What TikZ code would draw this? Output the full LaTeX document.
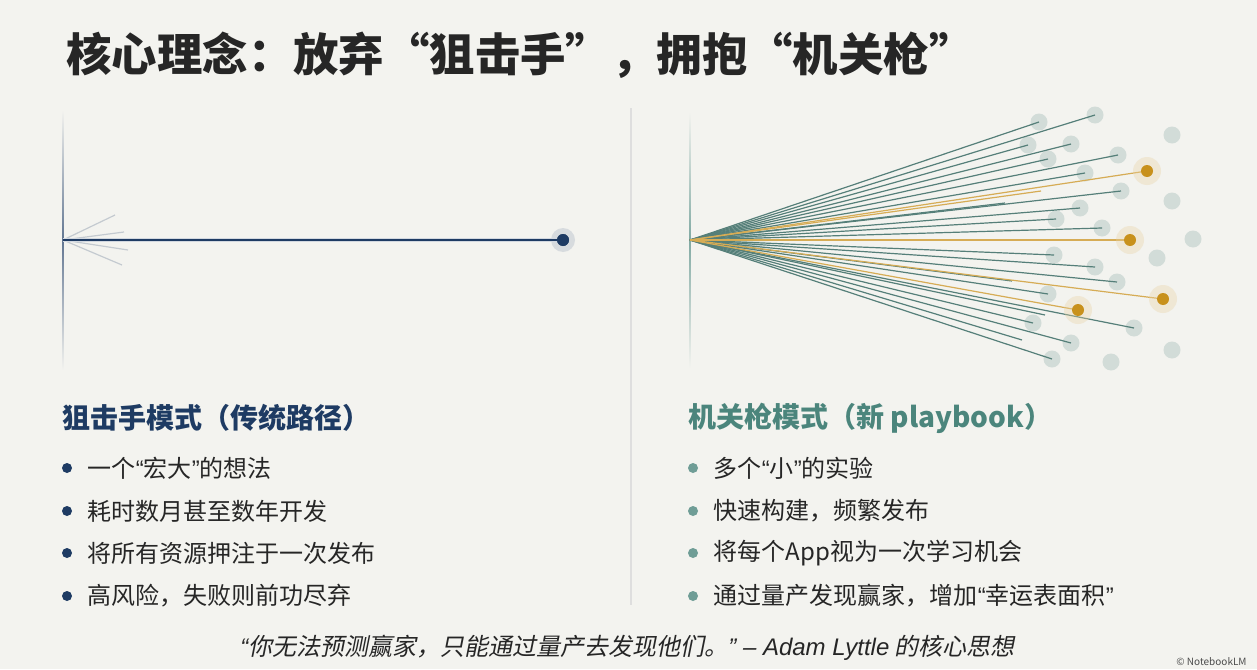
\documentclass[tikz,border=0pt]{standalone}
\usepackage{fontspec}
\setmainfont{Noto Sans CJK SC}
\newfontfamily\slantfont{Noto Sans CJK SC}[FakeSlant=0.2]
\newfontfamily\latinfont{Liberation Sans}
\usetikzlibrary{positioning,fadings}

\definecolor{bg}{HTML}{F3F3EF}
\definecolor{navy}{HTML}{1E3B63}
\definecolor{tealc}{HTML}{4B857C}
\definecolor{raycol}{HTML}{557F79}
\definecolor{goldc}{HTML}{C8911C}
\definecolor{dotgrey}{HTML}{CDD8D4}
\definecolor{ink}{HTML}{262626}

% proportional quotes as in the bullets
\newcommand{\pq}[1]{{\latinfont “}#1{\latinfont ”}}

\tikzset{
  heading/.style={anchor=west, inner sep=0pt, font=\fontsize{14pt}{16pt}\selectfont\bfseries},
  item/.style={inner sep=0pt, font=\fontsize{12pt}{14pt}\selectfont, text=ink},
  navybullet/.style={circle, fill=navy, minimum size=5pt, inner sep=0pt},
  tealbullet/.style={circle, fill=tealc!80, minimum size=5pt, inner sep=0pt},
  greydot/.style={circle, fill=dotgrey, minimum size=8.5pt, inner sep=0pt, opacity=.85},
  golddot/.style={circle, fill=goldc, minimum size=6pt, inner sep=0pt},
  ray/.style={raycol, line width=.6pt},
  goldray/.style={goldc!75, line width=.6pt},
}

\begin{document}
\begin{tikzpicture}[x=0.5pt, y=-0.5pt]
  \fill[bg] (0,0) rectangle (1257,669);
  \useasboundingbox (0,0) rectangle (1257,669);

  % title
  \node[anchor=west, inner sep=0pt, font=\fontsize{22.7pt}{26pt}\selectfont\bfseries, text=ink] (title) at (66,55) {核心理念：放弃“狙击手”，拥抱“机关枪”};

  % divider
  \draw[black!13, line width=.6pt] (631,108) -- (631,605);

  % sniper side
  \shade[top color=bg, bottom color=bg, middle color=navy!70] (62.2,110) rectangle (63.8,370);
  \coordinate (snipe) at (63,240);
  \foreach \x/\y [count=\i] in {115/215,124/232,128/250,122/265}{
    \coordinate (gh\i) at (\x,\y);
    \draw[navy, opacity=.22, line width=.6pt] (snipe) -- (gh\i);
  }
  \node[circle, fill=navy, minimum size=6pt, inner sep=0pt] (target) at (563,240) {};
  \fill[navy!40, opacity=.35] (target) circle (6pt);
  \draw[navy!20, line width=2pt] (snipe) -- (target);
  \draw[navy, line width=.7pt] (snipe) -- (target);
  \node[circle, fill=navy, minimum size=6pt, inner sep=0pt] at (target) {};

  % machine gun side
  \shade[top color=bg, bottom color=bg, middle color=tealc!70] (689.2,112) rectangle (690.8,368);
  \coordinate (fan) at (690,240);
  \foreach \n/\x/\y in {g1/1039/122, g2/1095/115, g3/1172/135, g4/1028/145, g5/1071/144,
      g6/1048/159, g7/1118/155, g8/1085/173, g9/1121/191, g10/1172/201, g11/1080/208,
      g12/1056/219, g13/1102/228, g14/1193/239, g15/1157/258, g16/1054/255, g17/1095/267,
      g18/1117/282, g19/1048/294, g20/1033/323, g21/1134/328, g22/1071/343, g23/1172/350,
      g24/1052/359, g25/1111/362}
    \node[greydot] (\n) at (\x,\y) {};
  \foreach \n/\x/\y in {w1/1147/171, w2/1130/240, w3/1163/299, w4/1078/310,
      e1/1041/191, e2/1045/315, e3/1022/340, e4/1005/203, e5/1012/281}
    \coordinate (\n) at (\x,\y);

  \fill[tealc, opacity=.75, path fading=east] (fan) -- (770,221) -- (770,260) -- cycle;
  \foreach \n in {g1,g2,g4,g5,g6,g7,g8,g9,g11,g12,g13,g16,g17,g18,g19,g20,g21,g22,g24,e2,e3,e4,e5}
    \draw[ray] (fan) -- (\n.center);
  \foreach \n in {w1,w2,w3,w4,e1}
    \draw[goldray] (fan) -- (\n);

  % winners
  \foreach \n in {w1,w2,w3,w4}{
    \fill[goldc!40, opacity=.35] (\n) circle (7pt);
    \node[golddot] at (\n) {};
  }

  % headings
  \node[heading, text=navy] (lhead) at (62,418) {狙击手模式（传统路径）};
  \node[heading, text=tealc] (rhead) at (688,418) {机关枪模式（新 playbook）};

  % left list
  \node[navybullet] (lb1) at (67,468) {};
  \node[navybullet] (lb2) at (67,511) {};
  \node[navybullet] (lb3) at (67,553) {};
  \node[navybullet] (lb4) at (67,596) {};
  \node[item, right=7.5pt of lb1] (l1) {一个\pq{宏大}的想法};
  \node[item, right=7.5pt of lb2] (l2) {耗时数月甚至数年开发};
  \node[item, right=7.5pt of lb3] (l3) {将所有资源押注于一次发布};
  \node[item, right=7.5pt of lb4] (l4) {高风险，失败则前功尽弃};

  % right list
  \node[tealbullet] (rb1) at (693,468) {};
  \node[tealbullet] (rb2) at (693,511) {};
  \node[tealbullet] (rb3) at (693,553) {};
  \node[tealbullet] (rb4) at (693,596) {};
  \node[item, right=7.5pt of rb1] (r1) {多个\pq{小}的实验};
  \node[item, right=7.5pt of rb2] (r2) {快速构建，频繁发布};
  \node[item, right=7.5pt of rb3] (r3) {将每个App视为一次学习机会};
  \node[item, right=7.5pt of rb4] (r4) {通过量产发现赢家，增加\pq{幸运表面积}};

  % quote
  \node[anchor=west, inner sep=0pt, font=\fontsize{12pt}{14pt}\slantfont, text=ink] (quote) at (240,648) {{\latinfont\itshape “}你无法预测赢家，只能通过量产去发现他们。{\latinfont\itshape ” – Adam Lyttle} 的核心思想};
  \node[anchor=west, inner sep=0pt, font=\fontsize{5pt}{6pt}\selectfont, text=black!70] (mark) at (1176,662) {© NotebookLM};
\end{tikzpicture}
\end{document}
